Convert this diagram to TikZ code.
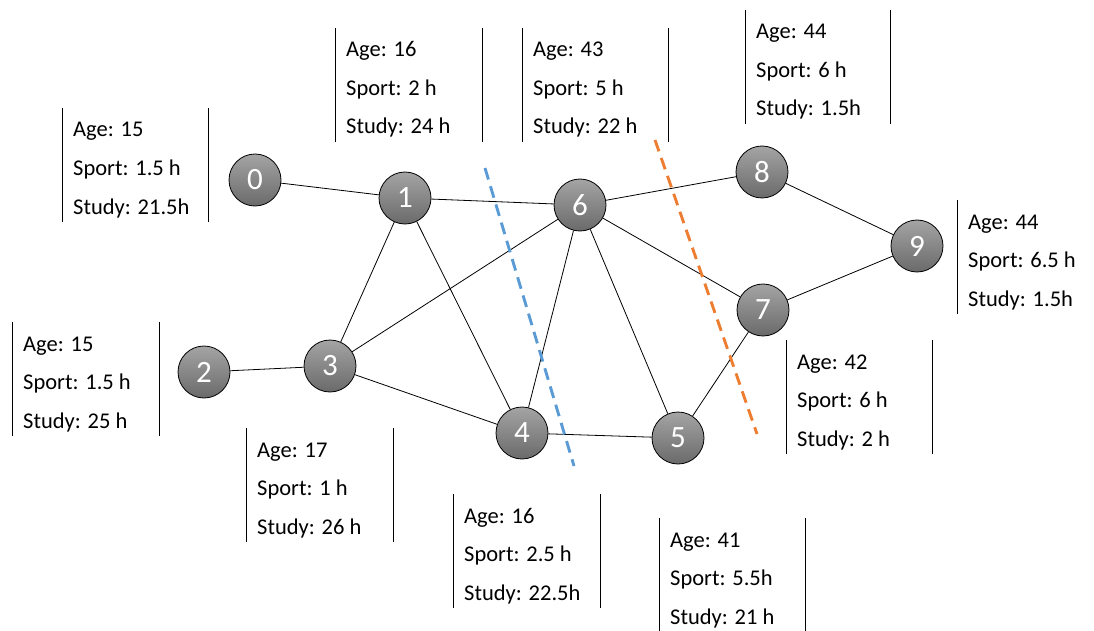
\documentclass[tikz,border=0pt]{standalone}
\usepackage{fontspec}
\setmainfont{Carlito}
\definecolor{nodetop}{HTML}{A4A4A4}
\definecolor{nodebot}{HTML}{6A6A6A}
\definecolor{cutblue}{HTML}{5B9BD5}
\definecolor{cutorange}{HTML}{ED7D31}
\tikzset{
  vertex/.style={circle, draw=black, line width=0.8pt, minimum size=52pt,
    inner sep=0pt, top color=nodetop, bottom color=nodebot,
    text=white, font=\fontsize{31}{31}\selectfont},
  link/.style={draw=black, line width=0.8pt},
  infotext/.style={anchor=base west, inner sep=0pt, font=\fontsize{22.5}{22.5}\selectfont},
  boxline/.style={draw=black, line width=1pt},
  cut/.style={line width=2.9pt, dash pattern=on 12pt off 7pt}
}
% one attribute panel: name, left x, top y, age, sport, study
\newcommand\infopanel[6]{%
  \draw[boxline] (#2,#3) -- (#2,#3+114);
  \node[infotext] (#1age) at (#2+11,#3+29) {Age: #4};
  \node[infotext] (#1sport) at (#2+11,#3+67.5) {Sport: #5};
  \node[infotext] (#1study) at (#2+11,#3+106) {Study: #6};
}
\newcommand\panelright[2]{\draw[boxline] (#1,#2) -- (#1,#2+114);}
\begin{document}
\begin{tikzpicture}[x=1pt,y=-1pt]
\useasboundingbox (0,0) rectangle (1094,631);
\clip (0,0) rectangle (1094,631);

% vertices
\node[vertex] (n0) at (255,180) {0};
\node[vertex] (n1) at (405,198) {1};
\node[vertex] (n2) at (204,372) {2};
\node[vertex] (n3) at (330,366) {3};
\node[vertex] (n4) at (522,433) {4};
\node[vertex] (n5) at (678,438) {5};
\node[vertex] (n6) at (580,205) {6};
\node[vertex] (n7) at (763,310) {7};
\node[vertex] (n8) at (762,172) {8};
\node[vertex] (n9) at (917,246) {9};

% edges
\foreach \a/\b in {n0/n1, n1/n6, n6/n8, n8/n9, n9/n7, n6/n7, n1/n3, n1/n4,
                   n2/n3, n3/n6, n3/n4, n4/n6, n6/n5, n4/n5, n5/n7}
  \draw[link] (\a) -- (\b);

% cuts
\coordinate (c1a) at (485,168);
\coordinate (c1b) at (574,466);
\coordinate (c2a) at (655,140);
\coordinate (c2b) at (757,434);
\draw[cut, cutblue] (c1a) -- (c1b);
\draw[cut, cutorange] (c2a) -- (c2b);

% attribute panels
\infopanel{p0}{62}{108}{15}{1.5 h}{21.5h}
\panelright{208}{108}
\infopanel{p1}{335}{28}{16}{2 h}{24 h}
\panelright{482}{28}
\infopanel{p6}{522}{28}{43}{5 h}{22 h}
\panelright{668}{28}
\infopanel{p8}{745}{10}{44}{6 h}{1.5h}
\panelright{890}{10}
\infopanel{p9}{957}{200}{44}{6.5 h}{1.5h}
\infopanel{p7}{786}{340}{42}{6 h}{2 h}
\panelright{932}{340}
\infopanel{p2}{12}{322}{15}{1.5 h}{25 h}
\panelright{159}{322}
\infopanel{p3}{246}{428}{17}{1 h}{26 h}
\panelright{393}{428}
\infopanel{p4}{453}{494}{16}{2.5 h}{22.5h}
\panelright{600}{494}
\infopanel{p5}{659}{518}{41}{5.5h}{21 h}
\panelright{805}{518}
\end{tikzpicture}
\end{document}
